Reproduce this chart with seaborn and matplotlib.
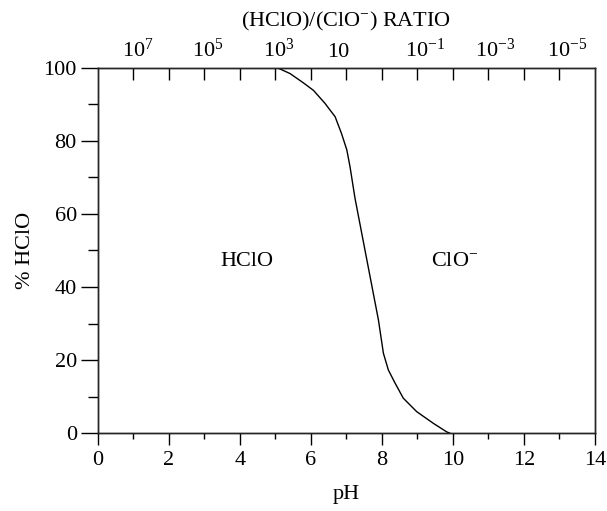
import matplotlib
matplotlib.use("Agg")
import matplotlib.pyplot as plt
import matplotlib.ticker as mticker
from matplotlib import font_manager
import seaborn as sns
import pandas as pd

# data
ph = [5.05, 5.41, 5.78, 6.07, 6.39, 6.68, 6.86, 7.01, 7.10, 7.24, 7.66, 7.90, 8.04, 8.18,
      8.37, 8.60, 8.98, 9.45, 9.82, 9.92]
pct_hclo = [100.0, 98.4, 95.9, 93.8, 90.3, 86.6, 82.0, 77.5, 72.9, 64.3, 43.1, 31.0, 21.9, 17.3,
            13.7, 9.6, 5.9, 2.7, 0.4, 0.0]
ratio_labels = ["10$^{7}$", "10$^{5}$", "10$^{3}$", "10", "10$^{-1}$", "10$^{-3}$", "10$^{-5}$"]
ratio_label_pos = [1.11, 3.08, 5.10, 6.76, 9.21, 11.18, 13.21]
region_labels = ["HClO", "ClO$^{-}$"]

sns.set_style("ticks")
available = set(f.name for f in font_manager.fontManager.ttflist)
serif = next((n for n in ["Liberation Serif", "TeX Gyre Termes", "FreeSerif", "STIXGeneral"]
              if n in available), "DejaVu Serif")
plt.rcParams["font.family"] = [serif, "DejaVu Serif"]
plt.rcParams["mathtext.fontset"] = "custom"
plt.rcParams["mathtext.rm"] = serif
plt.rcParams["mathtext.it"] = serif + ":italic"
plt.rcParams["mathtext.default"] = "rm"
plt.rcParams["axes.linewidth"] = 1.0
plt.rcParams["text.color"] = "black"
plt.rcParams["xtick.color"] = "black"
plt.rcParams["ytick.color"] = "black"
plt.rcParams["axes.labelcolor"] = "black"

FS = 16
df = pd.DataFrame({"pH": ph, "pct": pct_hclo})

fig = plt.figure(figsize=(6.07, 5.11), dpi=100)
ax = fig.add_axes([0.1614, 0.1521, 0.8188, 0.7154])
sns.lineplot(data=df, x="pH", y="pct", ax=ax, color="black", linewidth=1.0, estimator=None, sort=False)

ax.set_xlim(0, 14)
ax.set_ylim(0, 100)
ax.set_xticks(range(0, 15, 2))
ax.set_xticks(range(1, 14, 2), minor=True)
ax.set_yticks(range(0, 101, 20))
ax.set_yticks(range(10, 100, 20), minor=True)
ax.tick_params(axis="x", which="major", direction="out", length=8.6, width=1, labelsize=FS, pad=4)
ax.tick_params(axis="x", which="minor", direction="out", length=4.3, width=1)
ax.tick_params(axis="y", which="major", direction="out", length=12.2, width=1, labelsize=FS, pad=3)
ax.tick_params(axis="y", which="minor", direction="out", length=7.2, width=1)
ax.set_xlabel("pH", fontsize=FS, labelpad=11)
ax.set_ylabel("% HClO", fontsize=FS, labelpad=6)
for s in ["top", "right", "left", "bottom"]:
    ax.spines[s].set_visible(True)
    ax.spines[s].set_color("black")

# top ratio axis
ax2 = ax.twiny()
ax2.set_xlim(0, 14)
ax2.xaxis.set_major_locator(mticker.FixedLocator(range(1, 14)))
ax2.xaxis.set_major_formatter(mticker.NullFormatter())
ax2.xaxis.set_minor_locator(mticker.FixedLocator(ratio_label_pos))
ax2.xaxis.set_minor_formatter(mticker.FixedFormatter(ratio_labels))
ax2.tick_params(axis="x", which="major", direction="in", length=8.6, width=1)
ax2.tick_params(axis="x", which="minor", length=0, labelsize=FS, pad=4)
ax2.set_xlabel("(HClO)/(ClO$^{-}$) RATIO", fontsize=FS, labelpad=9)

ax.text(4.2, 47, region_labels[0], fontsize=FS, ha="center", va="center")
ax.text(10.06, 47, region_labels[1], fontsize=FS, ha="center", va="center")

fig.savefig("out.png", dpi=100, facecolor="white")
